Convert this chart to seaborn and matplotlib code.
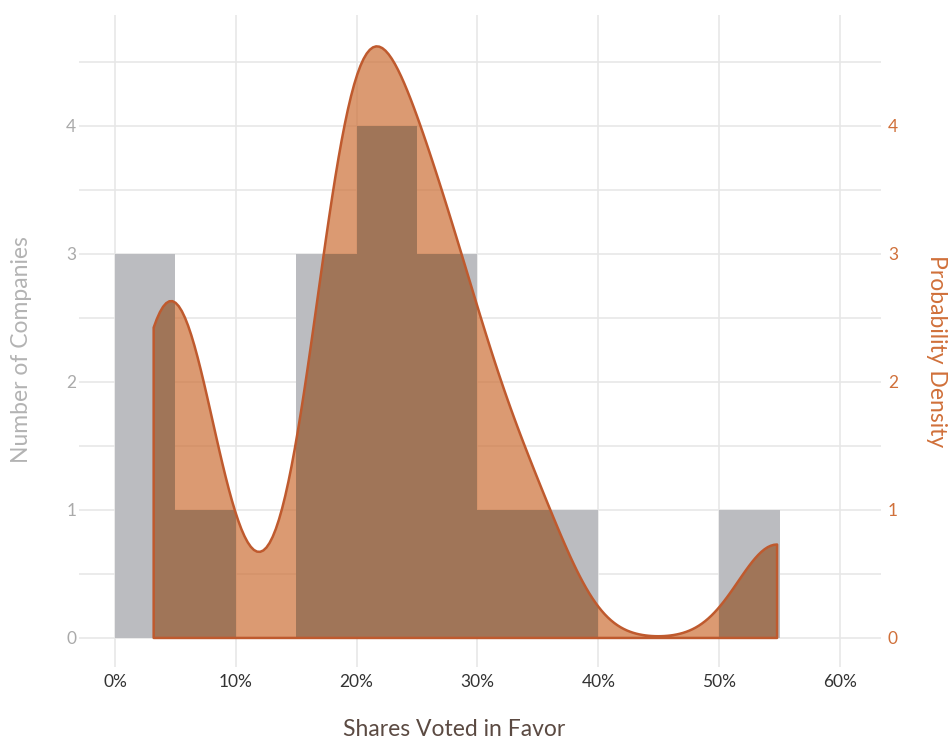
import matplotlib
matplotlib.use("Agg")
import numpy as np
import pandas as pd
import seaborn as sns
import matplotlib.pyplot as plt
from matplotlib.ticker import PercentFormatter, MultipleLocator, FixedLocator

# ---- data (share of votes in favour, one value per company) ----
shares_voted = [0.032, 0.039, 0.048, 0.072,
                0.176, 0.187, 0.195,
                0.205, 0.215, 0.227, 0.243,
                0.255, 0.27, 0.29,
                0.31, 0.351, 0.548]
bin_width = 0.05
bin_range = (0.0, 0.55)
x_ticks = [0.0, 0.1, 0.2, 0.3, 0.4, 0.5, 0.6]
y_ticks = [0, 1, 2, 3, 4]
x_label = "Shares Voted in Favor"
y_label_left = "Number of Companies"
y_label_right = "Probability Density"

GRAY = "#bbbcc0"
BROWN = "#a07558"
FILL = (205/255, 111/255, 55/255, 0.7)
LINE = "#bf5a2e"
ORANGE_TXT = "#d0703a"
GRID = "#e6e6e6"

sns.set_theme(style="white")
plt.rcParams['font.family'] = ['Lato', 'DejaVu Sans']

df = pd.DataFrame({"share": shares_voted})

fig = plt.figure(figsize=(9.52, 7.4), dpi=100)
W, H = 952, 740
ax = fig.add_axes([79 / W, 1 - 667 / H, (881 - 79) / W, (667 - 15) / H])

sns.histplot(data=df, x="share", binwidth=bin_width, binrange=bin_range,
             stat="count", color=GRAY, alpha=1, edgecolor="none", linewidth=0,
             ax=ax, zorder=2)

ax2 = ax.twinx()
# density fill
sns.kdeplot(data=df, x="share", bw_adjust=0.44, cut=0, fill=True,
            color=LINE, ax=ax2)
fill = ax2.collections[-1]
fill.set_facecolor(FILL)
fill.set_edgecolor("none")
fill.set_linewidth(0)
clip_path = fill.get_paths()[0]

# overlap region (histogram under the density fill)
n_before = len(ax2.patches)
sns.histplot(data=df, x="share", binwidth=bin_width, binrange=bin_range,
             stat="count", color=BROWN, alpha=1, edgecolor="none", linewidth=0,
             ax=ax2)
for p in ax2.patches[n_before:]:
    p.set_clip_path(clip_path, ax2.transData)

# density outline
sns.kdeplot(data=df, x="share", bw_adjust=0.44, cut=0, fill=True,
            color=LINE, ax=ax2)
edge = ax2.collections[-1]
edge.set_facecolor("none")
edge.set_edgecolor(LINE)
edge.set_linewidth(1.8)

ylim = (-0.227, 4.867)
ax.set_xlim(-0.0298, 0.634)
ax.set_ylim(*ylim)
ax2.set_ylim(*ylim)

for a in (ax, ax2):
    for s in a.spines.values():
        s.set_visible(False)
    a.set_xlabel("")
    a.set_ylabel("")

ax.xaxis.set_major_locator(FixedLocator(x_ticks))
ax.xaxis.set_major_formatter(PercentFormatter(1, decimals=0))
ax.yaxis.set_major_locator(FixedLocator(y_ticks))
ax.yaxis.set_minor_locator(MultipleLocator(0.5))
ax2.yaxis.set_major_locator(FixedLocator(y_ticks))
ax.set_axisbelow(True)
ax.grid(which="both", axis="y", color=GRID, linewidth=1.1, zorder=0)
ax.grid(which="major", axis="x", color=GRID, linewidth=1.1, zorder=0)

ax.tick_params(axis="x", length=0, pad=5, labelsize=12.5, labelcolor="#333333")
ax.tick_params(axis="y", which="both", length=0, pad=2, labelsize=12.5, labelcolor="#aaaaaa")
ax2.tick_params(axis="y", length=0, pad=5, labelsize=12.5, labelcolor=ORANGE_TXT)

fig.text(22 / W, 1 - 350 / H, y_label_left, rotation=90, ha="center", va="center",
         fontsize=16.5, color="#b3b3b3")
fig.text(937 / W, 1 - 351 / H, y_label_right, rotation=270, ha="center", va="center",
         fontsize=16.5, color=ORANGE_TXT)
fig.text(454 / W, 1 - 729 / H, x_label, ha="center", va="center",
         fontsize=16.5, color="#5b4a42")

fig.savefig("out.png", dpi=100)
